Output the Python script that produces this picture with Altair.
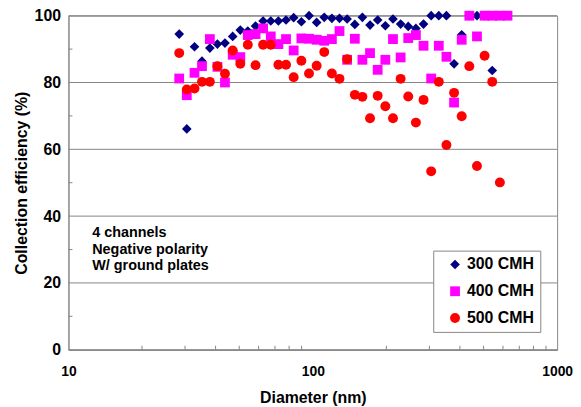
import altair as alt
import pandas as pd

# SMPS channel mid-point diameters (nm)
diameters = [28.4, 30.5, 32.8, 35.2, 37.9, 40.7, 43.7, 47.0, 50.5, 54.2, 58.3, 62.6,
             67.3, 72.3, 77.7, 83.5, 89.8, 96.5, 103.7, 111.4, 119.7, 128.6, 138.2,
             148.6, 159.6, 171.5, 184.3, 198.1, 212.9, 228.8, 245.8, 264.2, 283.9,
             305.1, 327.8, 352.3, 378.6, 406.8, 437.1, 469.8, 504.8, 542.5, 582.9, 626.4]

eff_300 = [94.5, 66.1, 90.7, 86.4, 90.3, 91.5, 91.8, 93.8, 95.7, 95.4, 96.9, 98.4,
           98.4, 98.4, 98.7, 99.4, 98.2, 100.0, 98.0, 99.5, 99.2, 99.2, 99.0,
           97.4, 99.5, 97.2, 98.7, 97.0, 99.0, 97.5, 96.8, 96.2, 97.5,
           100.0, 100.0, 100.0, 85.6, 94.3, 100.0, 100.0, 100.0, 83.6, None, None]

eff_400 = [81.2, 76.2, 82.9, 84.9, 93.0, 84.7, 80.0, 88.3, 87.6, 94.2, 94.5, 96.2,
           93.8, 91.5, 93.0, 89.6, 93.2, 93.1, 92.8, 92.5, 93.0, 95.4, 86.8,
           93.1, 86.8, 88.8, 83.8, 86.8, 93.0, 87.5, 93.3, 94.2, 91.0,
           81.2, 91.0, 87.7, 74.0, 92.8, 100.0, 93.8, 100.0, 100.0, 100.0, 100.0]

eff_500 = [88.8, 77.9, 78.2, 80.2, 80.2, 84.9, 82.6, 89.6, 85.6, 91.3, 85.2, 91.3,
           91.3, 85.3, 85.3, 81.6, 86.5, 82.7, 85.0, 89.1, 82.7, 81.1, 87.0,
           76.3, 75.7, 69.3, 76.0, 72.9, 69.3, 81.1, 75.8, 68.0, 74.8,
           53.4, 80.2, 61.3, 76.9, 69.9, 84.9, 55.0, 88.0, 80.2, 50.1, None]

series_names = ["300 CMH", "400 CMH", "500 CMH"]
series_values = [eff_300, eff_400, eff_500]
series_colors = ["#000080", "#FF00FF", "#FF0000"]
series_shapes = ["diamond", "square", "circle"]
series_sizes = [95, 100, 115]

y_ticks = [0, 20, 40, 60, 80, 100]
y_minor = [10, 30, 50, 70, 90]
x_ticks = [10, 100, 1000]
x_minor = [20, 30, 40, 50, 60, 70, 80, 90, 200, 300, 400, 500, 600, 700, 800, 900]

note_lines = ["4 channels", "Negative polarity", "W/ ground plates"]

rows = []
for name, vals in zip(series_names, series_values):
    for d, v in zip(diameters, vals):
        if v is not None:
            rows.append({"d": d, "eff": v, "series": name})
df = pd.DataFrame(rows)

W, H = 493, 337
FONT = "Liberation Sans"
GRID = "#868686"

xscale = alt.Scale(type="log", domain=[10, 1000], nice=False)
yscale = alt.Scale(domain=[0, 100], nice=False)

x_axis = alt.Axis(values=x_ticks, grid=False, ticks=False, labelPadding=15,
                  labelFontSize=14, titlePadding=11, labelFlush=False, format="d")
y_axis = alt.Axis(values=y_ticks, grid=False, ticks=False, labelPadding=8,
                  labelFontSize=16, titlePadding=5)
X_TITLE = "Diameter (nm)"
Y_TITLE = "Collection efficiency (%)"

points = alt.Chart(df).mark_point(filled=True, opacity=1, strokeWidth=0).encode(
    x=alt.X("d:Q", scale=xscale, title=X_TITLE, axis=x_axis),
    y=alt.Y("eff:Q", scale=yscale, title=Y_TITLE, axis=y_axis),
    color=alt.Color("series:N", scale=alt.Scale(domain=series_names, range=series_colors),
                    legend=alt.Legend(title=None, orient="none", legendX=368, legendY=237,
                                      fillColor="white", strokeColor=GRID, padding=6,
                                      symbolOffset=8, labelOffset=4, rowPadding=11,
                                      labelFontSize=16, labelFontWeight="bold",
                                      labelFont=FONT, symbolSize=80,
                                      labelExpr="datum.label + ' '")),
    shape=alt.Shape("series:N", scale=alt.Scale(domain=series_names, range=series_shapes)),
    size=alt.Size("series:N", scale=alt.Scale(domain=series_names, range=series_sizes),
                  legend=None),
    order=alt.Order("series:N"),
)

grid_df = pd.DataFrame({"eff": y_ticks})
grid = alt.Chart(grid_df).mark_rule(color=GRID, strokeWidth=1).encode(
    y=alt.Y("eff:Q", scale=yscale, title=Y_TITLE, axis=y_axis),
    x=alt.value(0),
    x2=alt.value(W),
)

xminor_df = pd.DataFrame({"d": x_minor})
xminor = alt.Chart(xminor_df).mark_rule(color=GRID, strokeWidth=1).encode(
    x=alt.X("d:Q", scale=xscale, title=X_TITLE, axis=x_axis),
    y=alt.value(H),
    y2=alt.value(H - 4),
)

yminor_df = pd.DataFrame({"eff": y_minor})
yminor = alt.Chart(yminor_df).mark_rule(color=GRID, strokeWidth=1).encode(
    y=alt.Y("eff:Q", scale=yscale, title=Y_TITLE, axis=y_axis),
    x=alt.value(0),
    x2=alt.value(4),
)

note = alt.Chart(pd.DataFrame({"k": [0]})).mark_text(
    text=note_lines, align="left", baseline="middle", font=FONT, fontWeight="bold",
    fontSize=14.5, lineHeight=17, color="black",
).encode(x=alt.value(24), y=alt.value(219))

chart = alt.layer(grid, xminor, yminor, note, points).properties(
    width=W, height=H,
    autosize=alt.AutoSizeParams(type="none"),
    padding={"left": 61, "top": 6, "right": 16, "bottom": 56},
).configure_axis(
    labelFont=FONT, titleFont=FONT, labelFontWeight="bold", titleFontWeight="bold",
    titleFontSize=16, labelColor="black", titleColor="black",
    domainColor=GRID,
).configure_view(
    stroke=GRID, strokeWidth=1,
)

chart.save("out.html", embed_options={"renderer": "svg", "actions": False})
